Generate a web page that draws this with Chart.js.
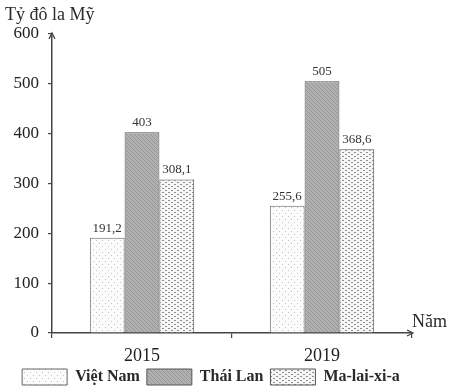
<!DOCTYPE html>
<html>
<head>
<meta charset="utf-8">
<script src="https://cdn.jsdelivr.net/npm/chart.js@4/dist/chart.umd.min.js"></script>
<style>
  html, body { margin: 0; padding: 0; background: #fff; }
  #wrap { width: 452px; height: 391px; }
</style>
</head>
<body>
<div id="wrap"><canvas id="chart"></canvas></div>
<script>
const years = ['2015', '2019'];
const vietNam = [191.2, 255.6];
const thaiLan = [403, 505];
const malaysia = [308.1, 368.6];
const seriesNames = ['Việt Nam', 'Thái Lan', 'Ma-lai-xi-a'];
const yTicks = [0, 100, 200, 300, 400, 500, 600];

const serif = '"Liberation Serif", "DejaVu Serif", serif';

function makePattern(w, h, bg, draw) {
    const c = document.createElement('canvas');
    c.width = w; c.height = h;
    const g = c.getContext('2d');
    g.fillStyle = bg;
    g.fillRect(0, 0, w, h);
    draw(g);
    return g.createPattern(c, 'repeat');
}

const pVN = makePattern(6, 6, '#fbfbfb', g => {
    g.fillStyle = '#c4c4c4';
    g.fillRect(0, 0, 1, 1);
    g.fillRect(3, 3, 1, 1);
});
const pTL = makePattern(4, 4, '#b0b0b0', g => {
    g.fillStyle = '#979797';
    g.fillRect(0, 0, 1, 1);
    g.fillRect(1, 1, 1, 1);
    g.fillRect(2, 2, 1, 1);
    g.fillRect(3, 3, 1, 1);
});
const pMY = makePattern(6, 4, '#f6f6f6', g => {
    g.fillStyle = '#8e8e8e';
    g.fillRect(0, 0, 2, 1);
    g.fillRect(3, 2, 2, 1);
});

const ctx = document.getElementById('chart').getContext('2d');

const extras = {
    id: 'extras',
    afterDatasetsDraw(chart) {
        const c = chart.ctx;
        const a = chart.chartArea;
        c.save();
        // value labels
        c.font = '13px ' + serif;
        c.fillStyle = '#333';
        c.textAlign = 'center';
        c.textBaseline = 'bottom';
        chart.data.datasets.forEach((ds, i) => {
            chart.getDatasetMeta(i).data.forEach((bar, j) => {
                c.fillText(String(ds.data[j]).replace('.', ','), bar.x, bar.y - 3);
            });
        });
        // arrows
        c.strokeStyle = '#444';
        c.lineWidth = 1.3;
        c.beginPath();
        c.moveTo(a.left - 3, a.top + 5); c.lineTo(a.left, a.top - 1); c.lineTo(a.left + 3, a.top + 5);
        c.moveTo(a.right - 5, a.bottom - 3); c.lineTo(a.right + 1, a.bottom); c.lineTo(a.right - 5, a.bottom + 3);
        c.stroke();
        // axis names
        c.fillStyle = '#2a2a2a';
        c.font = '18px ' + serif;
        c.textAlign = 'left';
        c.textBaseline = 'middle';
        c.fillText('Tỷ đô la Mỹ', 5, 15);
        c.fillText('Năm', 412, 322);
        c.restore();
    }
};

new Chart(ctx, {
    type: 'bar',
    data: {
        labels: years,
        datasets: [
            { label: seriesNames[0], data: vietNam, backgroundColor: pVN, borderColor: '#666', borderWidth: 1 },
            { label: seriesNames[1], data: thaiLan, backgroundColor: pTL, borderColor: '#555', borderWidth: 1 },
            { label: seriesNames[2], data: malaysia, backgroundColor: pMY, borderColor: '#555', borderWidth: 1 }
        ]
    },
    options: {
        responsive: true,
        maintainAspectRatio: false,
        animation: false,
        layout: { padding: { top: 34, right: 40, left: 10, bottom: 0 } },
        datasets: { bar: { categoryPercentage: 0.58, barPercentage: 1 } },
        plugins: {
            legend: {
                position: 'bottom',
                maxHeight: 29,
                labels: {
                    boxWidth: 45,
                    boxHeight: 16,
                    padding: 7,
                    color: '#2a2a2a',
                    font: { family: serif, size: 16, weight: 'bold' }
                }
            },
            tooltip: { enabled: false }
        },
        scales: {
            x: {
                afterFit: scale => { scale.height = 29; },
                grid: { drawOnChartArea: false, tickLength: 5, color: '#444', lineWidth: 1.2 },
                border: { color: '#444', width: 1.5 },
                ticks: { color: '#222', padding: 7, font: { family: serif, size: 18 } }
            },
            y: {
                min: 0,
                max: 600,
                afterBuildTicks: axis => { axis.ticks = yTicks.map(v => ({ value: v })); },
                afterFit: scale => { scale.width = 42; },
                grid: { drawOnChartArea: false, tickLength: 4, color: '#444', lineWidth: 1.2 },
                border: { color: '#444', width: 1.5 },
                ticks: { color: '#222', padding: 9, font: { family: serif, size: 17 } }
            }
        }
    },
    plugins: [extras]
});
</script>
</body>
</html>
